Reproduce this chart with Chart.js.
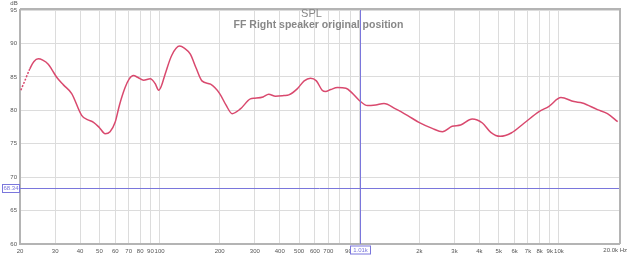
<!DOCTYPE html>
<html>
<head>
<meta charset="utf-8">
<script src="https://cdn.jsdelivr.net/npm/chart.js@4"></script>
<style>
  html, body { margin: 0; padding: 0; background: #ffffff; }
  #wrap { width: 628px; height: 256px; position: relative; }
</style>
</head>
<body>
<div id="wrap"><canvas id="splChart"></canvas></div>
<script>
// Frequency response values (Hz, dB)
const freqs = [20.2, 21.2, 22.4, 23.5, 24.7, 26, 27.7, 29, 30.6, 33, 36.3, 40.8, 43.5, 46.7, 50, 53.4, 56.5, 59.9, 63, 67.2, 70.5, 74, 78, 83.2, 89.8, 95, 99, 102, 106.6, 115, 126, 133, 142.6, 152, 163, 180, 200, 215, 231, 254, 285, 300, 330, 352, 381, 420, 444, 489, 530, 570, 610, 652, 678, 720, 778, 858, 920, 998, 1100, 1210, 1330, 1520, 1750, 1990, 2320, 2610, 2920, 3220, 3680, 4140, 4560, 5080, 5770, 6710, 7950, 8920, 10240, 11900, 13100, 15600, 17500, 19700];
const spl = [83.0, 84.5, 86.2, 87.3, 87.7, 87.5, 86.9, 86.0, 84.9, 83.8, 82.5, 79.2, 78.6, 78.2, 77.4, 76.5, 76.8, 78.2, 80.8, 83.4, 84.7, 85.2, 84.9, 84.5, 84.7, 84.0, 83.0, 83.6, 85.4, 88.2, 89.6, 89.3, 88.4, 86.4, 84.4, 83.9, 82.5, 80.8, 79.5, 80.2, 81.7, 81.8, 82.0, 82.4, 82.1, 82.2, 82.3, 83.2, 84.4, 84.8, 84.4, 83.0, 82.8, 83.1, 83.4, 83.3, 82.6, 81.5, 80.7, 80.8, 81.0, 80.2, 79.2, 78.2, 77.3, 76.8, 77.6, 77.8, 78.7, 78.1, 76.7, 76.1, 76.6, 78.1, 79.8, 80.6, 81.9, 81.3, 81.1, 80.1, 79.5, 78.3];

const freqTicks = [20, 30, 40, 50, 60, 70, 80, 90, 100, 200, 300, 400, 500, 600, 700, 800, 900, 1000, 2000, 3000, 4000, 5000, 6000, 7000, 8000, 9000, 10000, 20000];
const freqTickLabels = ['20', '30', '40', '50', '60', '70', '80', '90', '100', '200', '300', '400', '500', '600', '700', '', '900', '1k', '2k', '3k', '4k', '5k', '6k', '7k', '8k', '9k', '10k', '20.0k Hz'];
const dbTicks = [60, 65, 70, 75, 80, 85, 90, 95];

const titleLines = ['SPL', 'FF Right speaker original position'];
const cursorDb = 68.34;
const cursorFreq = 1010;
const cursorDbLabel = '68.34';
const cursorFreqLabel = '1.01k';

const curveColor = '#d9496e';
const cursorColor = '#7a76dc';
const frameColor = '#b4b4b4';
const tickFont = '6px "Liberation Sans", Arial, sans-serif';

// Titles, frame, last tick label and cursor lines drawn on top of the chart area
const overlayPlugin = {
    id: 'overlay',
    afterDatasetsDraw(chart) {
        const { ctx, chartArea, scales } = chart;
        const xs = scales.x, ys = scales.y;
        ctx.save();

        // cursor lines
        const cy = Math.round(ys.getPixelForValue(cursorDb)) + 0.5;
        const cx = Math.round(xs.getPixelForValue(cursorFreq)) + 0.5;
        ctx.strokeStyle = cursorColor;
        ctx.lineWidth = 1;
        ctx.beginPath();
        ctx.moveTo(chartArea.left, cy);
        ctx.lineTo(chartArea.right, cy);
        ctx.moveTo(cx, chartArea.top);
        ctx.lineTo(cx, chartArea.bottom);
        ctx.stroke();

        // frame top / right
        ctx.strokeStyle = frameColor;
        ctx.lineWidth = 2;
        ctx.beginPath();
        ctx.moveTo(chartArea.left, chartArea.top - 1);
        ctx.lineTo(chartArea.right + 1, chartArea.top - 1);
        ctx.lineTo(chartArea.right + 1, chartArea.bottom);
        ctx.stroke();

        // title
        ctx.fillStyle = '#888888';
        ctx.textAlign = 'center';
        ctx.textBaseline = 'middle';
        const midX = (chartArea.left + chartArea.right) / 2 - 4;
        ctx.font = '11px "Liberation Sans", Arial, sans-serif';
        ctx.fillText(titleLines[0], midX - 4, 14);
        ctx.font = 'bold 10.5px "Liberation Sans", Arial, sans-serif';
        ctx.fillText(titleLines[1], midX + 3, 25);

        // axis unit and last frequency label
        ctx.fillStyle = '#555';
        ctx.font = tickFont;
        ctx.fillText('dB', 14, 3);
        ctx.textAlign = 'right';
        ctx.fillText(freqTickLabels[freqTickLabels.length - 1], 627, chartArea.bottom + 6);
        ctx.textAlign = 'center';

        // cursor labels
        ctx.fillStyle = '#ffffff';
        ctx.fillRect(2.5, cy - 4, 17, 8);
        ctx.strokeStyle = cursorColor;
        ctx.lineWidth = 1;
        ctx.strokeRect(2.5, cy - 4, 17, 8);
        ctx.fillStyle = cursorColor;
        ctx.fillText(cursorDbLabel, 11, cy);

        const by = chartArea.bottom + 6;
        ctx.fillStyle = '#ffffff';
        ctx.fillRect(cx - 10, by - 4, 20, 8);
        ctx.strokeRect(cx - 10, by - 4, 20, 8);
        ctx.fillStyle = cursorColor;
        ctx.fillText(cursorFreqLabel, cx, by);

        ctx.restore();
    }
};

new Chart(document.getElementById('splChart'), {
    type: 'line',
    data: {
        datasets: [{
            label: 'SPL',
            data: freqs.map((f, i) => ({ x: f, y: spl[i] })),
            borderColor: curveColor,
            borderWidth: 1.5,
            pointRadius: 0,
            fill: false,
            cubicInterpolationMode: 'monotone',
            segment: {
                borderDash: c => c.p1DataIndex <= 2 ? [2, 1.5] : undefined
            }
        }]
    },
    options: {
        responsive: true,
        maintainAspectRatio: false,
        animation: false,
        events: [],
        layout: { padding: { top: 10, right: 9, left: 0, bottom: 0 } },
        plugins: {
            legend: { display: false },
            tooltip: { enabled: false }
        },
        scales: {
            x: {
                type: 'logarithmic',
                min: 20,
                max: 20000,
                afterBuildTicks: axis => {
                    axis.ticks = freqTicks.map(v => ({ value: v }));
                },
                afterFit: axis => { axis.height = 12; },
                grid: { color: '#dcdcdc', lineWidth: 1, drawTicks: false },
                border: { color: frameColor, width: 2 },
                ticks: {
                    autoSkip: false,
                    maxRotation: 0,
                    padding: 4,
                    color: '#555',
                    font: { family: 'Liberation Sans', size: 6 },
                    callback: (v) => {
                        const i = freqTicks.indexOf(v);
                        // last label is drawn by the overlay so it can run past the plot edge
                        return i >= 0 && i < freqTicks.length - 1 ? freqTickLabels[i] : '';
                    }
                }
            },
            y: {
                min: 60,
                max: 95,
                afterBuildTicks: axis => {
                    axis.ticks = dbTicks.map(v => ({ value: v }));
                },
                afterFit: axis => { axis.width = 20; },
                grid: { color: '#dcdcdc', lineWidth: 1, drawTicks: false },
                border: { color: frameColor, width: 2 },
                ticks: {
                    padding: 3,
                    color: '#555',
                    font: { family: 'Liberation Sans', size: 6 }
                }
            }
        }
    },
    plugins: [overlayPlugin]
});
</script>
</body>
</html>
